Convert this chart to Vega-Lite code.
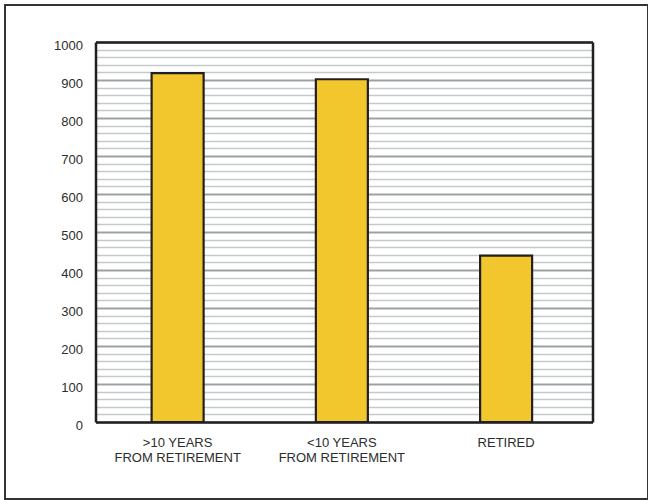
{
  "$schema": "https://vega.github.io/schema/vega-lite/v6.json",
  "width": 643,
  "height": 494,
  "autosize": {"type": "none"},
  "padding": {"left": 5, "top": 5, "right": 0, "bottom": 1},
  "background": "white",
  "config": {
    "view": {"stroke": "#333333", "strokeWidth": 2},
    "axis": {"labelFont": "Liberation Sans", "labelColor": "#2d2d2d"}
  },
  "data": {
    "values": [
      {"group": ">10 YEARS\nFROM RETIREMENT", "value": 918},
      {"group": "<10 YEARS\nFROM RETIREMENT", "value": 902},
      {"group": "RETIRED", "value": 438}
    ]
  },
  "layer": [
    {
      "mark": {"type": "bar", "fill": "#F2C72E", "stroke": "#231f20", "strokeWidth": 2.2, "width": {"band": 0.3166}},
      "encoding": {
        "x": {
          "field": "group", "type": "nominal", "sort": null,
          "scale": {"range": [90.5, 587.5], "paddingInner": 0, "paddingOuter": 0.013, "align": 0},
          "axis": {
            "orient": "bottom", "offset": -77, "title": null, "ticks": false, "tickSize": 0,
            "domainColor": "#231f20", "domainWidth": 2.5, "labelAngle": 0,
            "labelFontSize": 13, "labelPadding": 14, "labelLineHeight": 15,
            "labelExpr": "split(datum.label, '\\n')"
          }
        },
        "y": {
          "field": "value", "type": "quantitative",
          "scale": {"domain": [0, 1000], "range": [417, 37], "nice": false, "zero": true},
          "axis": {
            "orient": "left", "offset": -90.5, "title": null, "ticks": false, "tickSize": 0,
            "tickCount": 50, "format": "d",
            "labelExpr": "datum.value % 100 === 0 ? datum.label : ''",
            "labelOverlap": false, "labelFontSize": 13, "labelPadding": 13, "labelOffset": 3,
            "domainColor": "#231f20", "domainWidth": 2.5,
            "grid": true,
            "gridColor": {"condition": {"test": "datum.value % 100 === 0", "value": "#9da1a5"}, "value": "#c6c9cc"},
            "gridWidth": {"condition": {"test": "datum.value % 100 === 0", "value": 2}, "value": 1.3}
          }
        }
      }
    },
    {
      "mark": {"type": "bar", "opacity": 0, "width": {"band": 0.3166}},
      "encoding": {
        "x": {
          "field": "group", "type": "nominal", "sort": null,
          "scale": {"range": [90.5, 587.5], "paddingInner": 0, "paddingOuter": 0.013, "align": 0},
          "axis": {
            "orient": "top", "offset": -37, "title": null, "labels": false, "ticks": false,
            "grid": false, "domainColor": "#231f20", "domainWidth": 2.5, "zindex": 1
          }
        },
        "y": {
          "field": "value", "type": "quantitative",
          "scale": {"domain": [0, 1000], "range": [417, 37], "nice": false, "zero": true},
          "axis": {
            "orient": "right", "offset": -55.5, "title": null, "labels": false, "ticks": false,
            "grid": false, "domainColor": "#231f20", "domainWidth": 2.5, "zindex": 1
          }
        }
      }
    }
  ],
  "resolve": {"axis": {"x": "independent", "y": "independent"}}
}
